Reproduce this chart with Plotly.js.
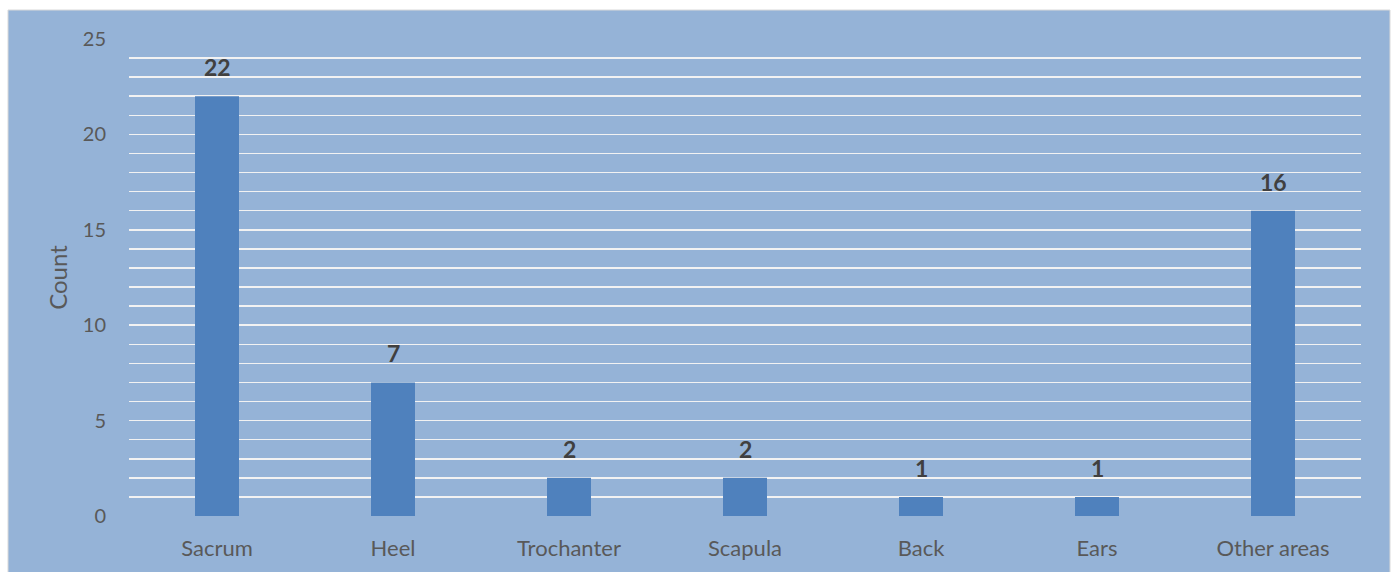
<!DOCTYPE html>
<html>
<head>
<meta charset="utf-8">
<script src="https://cdn.plot.ly/plotly-3.0.1.min.js"></script>
<style>
  html, body { margin: 0; padding: 0; background: #ffffff; }
  #chart { width: 1394px; height: 572px; }
</style>
</head>
<body>
<div id="chart"></div>
<script>
// Pressure ulcer locations and number of cases
const categories = ["Sacrum", "Heel", "Trochanter", "Scapula", "Back", "Ears", "Other areas"];
const counts = [22, 7, 2, 2, 1, 1, 16];
const yTickValues = [0, 5, 10, 15, 20, 25];

const FONT = "Lato, 'Open Sans', sans-serif";
const PANEL = "#95B3D7";
const BAR = "#4F81BD";
const GRID = "#F2F2F2";

const bars = {
  type: "bar",
  x: categories,
  y: counts,
  width: 0.25,
  marker: { color: BAR },
  hoverinfo: "x+y"
};

// value labels above each bar
const labels = categories.map((c, i) => ({
  x: c,
  y: counts[i],
  xref: "x",
  yref: "y",
  text: String(counts[i]),
  showarrow: false,
  yanchor: "bottom",
  yshift: 13,
  font: { family: FONT, size: 23, color: "#404040", weight: "bold" }
}));

const layout = {
  width: 1394,
  height: 572,
  margin: { l: 129, r: 33, t: 39, b: 56 },
  paper_bgcolor: "#ffffff",
  plot_bgcolor: PANEL,
  showlegend: false,
  bargap: 0.75,
  font: { family: FONT, color: "#595959" },
  xaxis: {
    type: "category",
    showgrid: false,
    zeroline: false,
    showline: false,
    ticks: "",
    ticklabelstandoff: 17,
    tickfont: { family: FONT, size: 22, color: "#595959" }
  },
  yaxis: {
    range: [0, 25],
    tickmode: "array",
    tickvals: yTickValues,
    ticktext: yTickValues.map(String),
    showgrid: true,
    gridcolor: GRID,
    gridwidth: 1.5,
    minor: { dtick: 1, showgrid: true, gridcolor: GRID, gridwidth: 1.5 },
    zeroline: false,
    showline: false,
    ticks: "",
    ticklabelstandoff: 22,
    tickfont: { family: FONT, size: 20, color: "#595959" },
    title: { text: "Count", standoff: 8, font: { family: FONT, size: 24, color: "#595959" } }
  },
  shapes: [{
    type: "rect",
    xref: "paper",
    yref: "paper",
    x0: (8 - 129) / 1232,
    x1: (1390 - 129) / 1232,
    y0: (516 - 573) / 477,
    y1: (516 - 10) / 477,
    fillcolor: PANEL,
    line: { color: "#D9D9D9", width: 1 },
    layer: "below"
  }],
  annotations: labels
};

Plotly.newPlot("chart", [bars], layout, { staticPlot: true, displayModeBar: false });
</script>
</body>
</html>
